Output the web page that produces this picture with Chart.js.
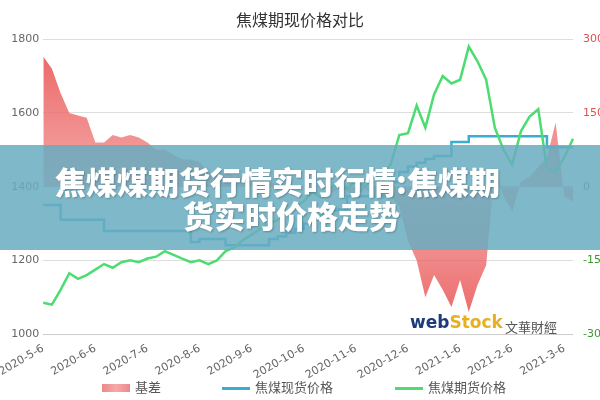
<!DOCTYPE html>
<html>
<head>
<meta charset="utf-8">
<script src="https://cdn.jsdelivr.net/npm/chart.js@4"></script>
<style>
  body { margin: 0; background: #fff; font-family: "Noto Sans CJK SC", sans-serif; }
  #wrap { position: relative; width: 600px; height: 400px; }
  #banner { position: absolute; left: 0; top: 145px; width: 600px; height: 105px;
    background: rgba(105,172,192,0.86); color: #fff; font-weight: 900; font-size: 31px;
    line-height: 36px; text-shadow: 1px 1px 2px rgba(0,0,0,0.25); }
  #banner .l1 { position: absolute; left: 55px; top: 18px; }
  #banner .l2 { position: absolute; left: 183px; top: 52px; }
  #mark { position: absolute; left: 410px; top: 312px; font-size: 17px; font-weight: bold; font-family: "DejaVu Sans", sans-serif; color: #1d3a7a; }
  #mark span { color: #e8b020; }
  #mark2 { position: absolute; left: 505px; top: 317px; font-size: 13px; color: #555; }
  .lg { position: absolute; top: 377px; font-size: 13px; color: #555; }
  .lg i { display: inline-block; width: 28px; vertical-align: middle; margin-right: 5px; }
</style>
</head>
<body>
<div id="wrap">
<canvas id="c" width="600" height="400"></canvas>
<div id="banner"><div class="l1">焦煤煤期货行情实时行情:焦煤期</div><div class="l2">货实时价格走势</div></div>
<div id="mark">web<span>Stock</span></div>
<div id="mark2">文華財經</div>
<div class="lg" style="left:102px"><i style="height:8px;background:linear-gradient(90deg,#e88,#f4aaaa,#e88)"></i>基差</div>
<div class="lg" style="left:222px"><i style="height:3px;background:#3aaed0"></i>焦煤现货价格</div>
<div class="lg" style="left:395px"><i style="height:3px;background:#4ddc72"></i>焦煤期货价格</div>
</div>
<script>
// dates, roughly every 5 days
var dates = ['2020-5-6','2020-5-11','2020-5-16','2020-5-21','2020-5-26',
  '2020-6-1','2020-6-6','2020-6-11','2020-6-16','2020-6-21','2020-6-26',
  '2020-7-1','2020-7-6','2020-7-11','2020-7-16','2020-7-21','2020-7-26',
  '2020-8-1','2020-8-6','2020-8-11','2020-8-16','2020-8-21','2020-8-26',
  '2020-9-1','2020-9-6','2020-9-11','2020-9-16','2020-9-21','2020-9-26',
  '2020-10-1','2020-10-6','2020-10-11','2020-10-16','2020-10-21','2020-10-26',
  '2020-11-1','2020-11-6','2020-11-11','2020-11-16','2020-11-21','2020-11-26',
  '2020-12-1','2020-12-6','2020-12-11','2020-12-16','2020-12-21','2020-12-26',
  '2021-1-1','2021-1-6','2021-1-11','2021-1-16','2021-1-21','2021-1-26',
  '2021-2-1','2021-2-6','2021-2-11','2021-2-16','2021-2-21','2021-2-26',
  '2021-3-1','2021-3-6','2021-3-11'];

var spotPrice = [1350,1350,1310,1310,1310,1310,1310,1280,1280,1280,1280,1280,1280,1280,1280,1280,1280,
  1250,1258,1258,1258,1241,1241,1241,1241,1241,1258,1265,1275,1285,1300,1310,1325,1335,1339,
  1374,1374,1374,1374,1374,1412,1440,1455,1465,1475,1483,1483,1521,1521,
  1537,1537,1537,1537,1537,1537,1537,1537,1537,1507,1507,1507,1507];

var futuresPrice = [1085,1080,1120,1165,1150,1160,1175,1190,1180,1195,1200,1195,1205,1210,1225,1215,1205,
  1195,1200,1190,1200,1225,1235,1255,1270,1285,1300,1310,1330,1345,1360,1385,1370,1395,1410,
  1395,1415,1400,1420,1435,1460,1540,1545,1620,1560,1650,1700,1680,1690,1780,1740,1690,
  1560,1500,1460,1550,1590,1610,1450,1440,1480,1530];

var basis = [265,240,190,150,145,140,90,90,105,100,105,100,90,75,75,65,55,
  55,50,30,25,30,20,25,20,15,10,5,10,-5,0,-10,5,-15,-5,
  -10,-20,-5,-15,-25,-20,-40,-110,-150,-225,-180,-210,-245,-190,-255,-200,-160,
  40,-20,-50,10,20,40,60,130,-20,-30];

var leftTicks = [1000,1200,1400,1600,1800];
var rightTicks = [-300,-150,0,150,300];

var ctx = document.getElementById('c').getContext('2d');
var grad = ctx.createLinearGradient(0, 40, 0, 335);
grad.addColorStop(0, 'rgba(232,80,80,0.9)');
grad.addColorStop(0.5, 'rgba(240,130,130,0.7)');
grad.addColorStop(1, 'rgba(232,80,80,0.9)');

new Chart(ctx, {
  type: 'line',
  data: {
    labels: dates,
    datasets: [
      { label: '基差', data: basis, yAxisID: 'yr', borderWidth: 0, pointRadius: 0,
        fill: 'origin', backgroundColor: grad, borderColor: 'rgba(232,80,80,0.9)', order: 3 },
      { label: '焦煤现货价格', data: spotPrice, yAxisID: 'y', borderColor: '#3aaed0', borderWidth: 2.5,
        pointRadius: 0, stepped: true, fill: false, order: 2 },
      { label: '焦煤期货价格', data: futuresPrice, yAxisID: 'y', borderColor: '#4ddc72', borderWidth: 2.5,
        pointRadius: 0, tension: 0, fill: false, order: 1 }
    ]
  },
  options: {
    responsive: false, animation: false,
    layout: { autoPadding: false, padding: { left: 0, right: 0, top: 0, bottom: 18 } },
    plugins: {
      title: { display: true, text: '焦煤期现价格对比', color: '#333',
        font: { size: 16, family: 'Noto Sans CJK SC', weight: 'normal' }, padding: { top: 10, bottom: 10 } },
      legend: { display: false },
      tooltip: { enabled: false }
    },
    scales: {
      x: { grid: { display: false }, border: { display: false }, offset: false,
        ticks: { autoSkip: false, maxRotation: 30, minRotation: 30, color: '#666', padding: 0,
          font: { size: 11, family: 'DejaVu Sans' },
          callback: function (v) { var s = dates[v]; return /-6$/.test(s) ? s : ''; } } },
      y: { position: 'left', min: 1000, max: 1800,
        afterBuildTicks: function (a) { a.ticks = leftTicks.map(function (v) { return { value: v }; }); },
        afterFit: function (a) { a.width = 35; },
        grid: { color: function (c) { return c.tick.value === 1000 ? '#ccc' : '#ddd'; }, borderDash: [2, 3], drawTicks: false },
        border: { display: false },
        ticks: { color: '#666', padding: 4, font: { size: 11, family: 'DejaVu Sans' },
          callback: function (v) { return String(v); } } },
      yr: { position: 'right', min: -300, max: 300,
        afterBuildTicks: function (a) { a.ticks = rightTicks.map(function (v) { return { value: v }; }); },
        afterFit: function (a) { a.width = 27; },
        grid: { display: false }, border: { display: false },
        ticks: { padding: 2, font: { size: 11, family: 'DejaVu Sans' },
          callback: function (v) { return String(v); },
          color: function (c) { var v = c.tick.value; return v > 0 ? '#e05050' : (v < 0 ? '#3a9a30' : '#666'); } } }
    }
  }
});
</script>
</body>
</html>
